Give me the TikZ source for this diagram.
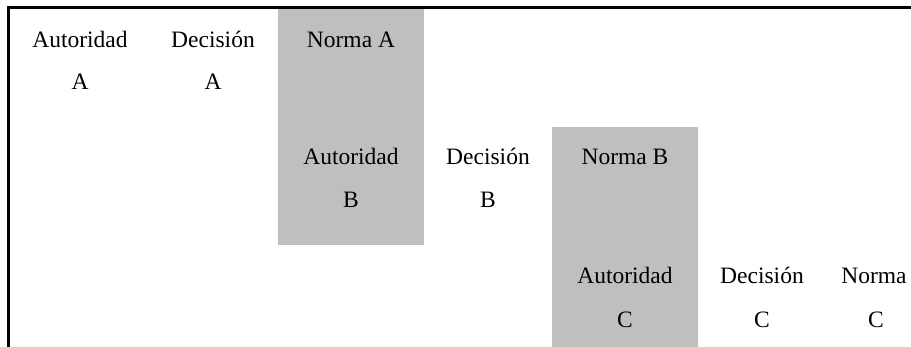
\documentclass[tikz,border=0pt]{standalone}
\usepackage{fontspec}
\setmainfont{Liberation Serif}
\definecolor{cellgray}{RGB}{191,191,191}
\tikzset{
  cell/.style={anchor=base, inner sep=0pt, font=\fontsize{23.5}{28}\selectfont},
  shade/.style={fill=cellgray, draw=none},
  rule/.style={line width=2.5pt, black}
}
\begin{document}
\begin{tikzpicture}[x=1pt,y=-1pt]
\useasboundingbox (0,0) rectangle (911,347);
% gray cells
\fill[shade] (278,8) rectangle (424,245);
\fill[shade] (552,127) rectangle (698,347);
% frame lines
\coordinate (tl) at (8.5,7.5);
\coordinate (tr) at (911,7.5);
\coordinate (bl) at (8.5,347);
\draw[rule] (tr) -- (tl) -- (bl);
% row 1
\node[cell] (aA) at (80,48) {Autoridad};
\node[cell] (aA2) at (80,90) {A};
\node[cell] (dA) at (213,48) {Decisión};
\node[cell] (dA2) at (213,90) {A};
\node[cell] (nA) at (351,48) {Norma A};
% row 2
\node[cell] (aB) at (351,165) {Autoridad};
\node[cell] (aB2) at (351,208) {B};
\node[cell] (dB) at (488,165) {Decisión};
\node[cell] (dB2) at (488,208) {B};
\node[cell] (nB) at (625,165) {Norma B};
% row 3
\node[cell] (aC) at (625,284) {Autoridad};
\node[cell] (aC2) at (625,328) {C};
\node[cell] (dC) at (762,284) {Decisión};
\node[cell] (dC2) at (762,328) {C};
\node[cell] (nC) at (874,284) {Norma};
\node[cell] (nC2) at (876,328) {C};
\end{tikzpicture}
\end{document}
